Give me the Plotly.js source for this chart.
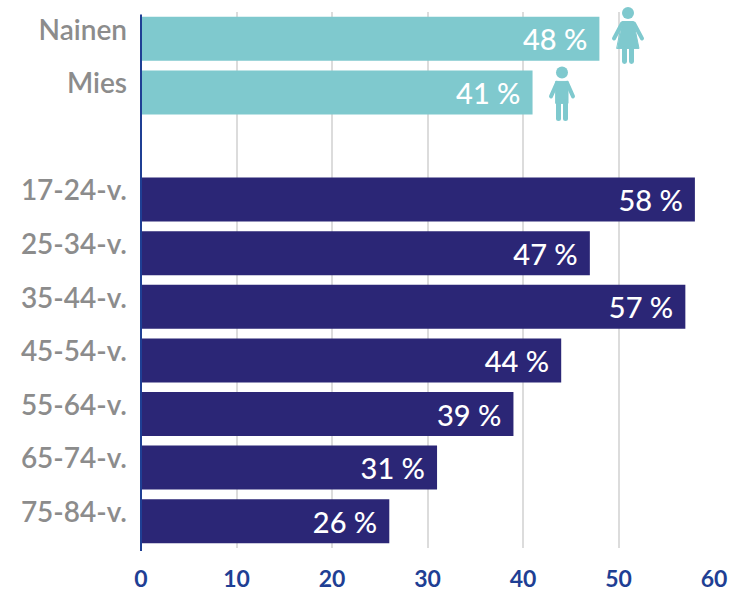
<!DOCTYPE html>
<html><head><meta charset="utf-8">
<script src="https://cdn.plot.ly/plotly-3.0.1.min.js"></script>
<style>html,body{margin:0;padding:0;background:#fff}</style></head>
<body><div id="chart" style="width:744px;height:595px"></div>
<script>
const categories = ['Nainen','Mies',' ','17-24-v.','25-34-v.','35-44-v.','45-54-v.','55-64-v.','65-74-v.','75-84-v.'];
const values = [48,41,null,58,47,57,44,39,31,26];
const barColors = ['#7fc9ce','#7fc9ce','#7fc9ce','#2b2676','#2b2676','#2b2676','#2b2676','#2b2676','#2b2676','#2b2676'];
const xTicks = [0,10,20,30,40,50,60];

const W=744,H=595,L=141,R=714,T=11.5,B=548;
const teal='%237fc9ce';
const woman = "data:image/svg+xml;utf8,<svg xmlns='http://www.w3.org/2000/svg' viewBox='0 0 40 60'>"+
 "<g fill='"+teal+"' stroke='"+teal+"' stroke-linejoin='round' stroke-linecap='round'>"+
 "<circle cx='20' cy='7.5' r='6' stroke='none'/>"+
 "<path stroke-width='1' d='M14.5 16 H25.5 L31 43 H9 Z'/>"+
 "<path fill='none' stroke-width='4' d='M14 18 L6 33 M26 18 L34 33'/>"+
 "<path fill='none' stroke-width='5' d='M16.5 43 V56 M23.5 43 V56'/></g></svg>";
const man = "data:image/svg+xml;utf8,<svg xmlns='http://www.w3.org/2000/svg' viewBox='0 0 40 60'>"+
 "<g fill='"+teal+"' stroke='"+teal+"' stroke-linejoin='round' stroke-linecap='round'>"+
 "<circle cx='20' cy='7' r='6' stroke='none'/>"+
 "<path stroke-width='1' d='M14 16 H26 V38 H14 Z'/>"+
 "<path fill='none' stroke-width='4' d='M15 17.5 L9 31 M25 17.5 L31 31'/>"+
 "<path fill='none' stroke-width='5' d='M16.5 36 V53 M23.5 36 V53'/></g></svg>";
const px = x => (x-L)/(R-L), py = y => (B-y)/(B-T);
function img(src,x,y,w,h){return {source:src,xref:'paper',yref:'paper',x:px(x),y:py(y),sizex:w/(R-L),sizey:h/(B-T),sizing:'stretch',xanchor:'left',yanchor:'top',layer:'above'};}

Plotly.newPlot('chart',[{
  type:'bar',orientation:'h',y:categories,x:values,
  marker:{color:barColors,line:{width:0}},
  text:values.map(v=>v==null?'':v+' %\u00A0\u200A'),
  textposition:'inside',insidetextanchor:'end',textangle:0,constraintext:'none',
  insidetextfont:{family:'Lato, sans-serif',size:29,color:'#ffffff',weight:500},
  hoverinfo:'skip',cliponaxis:false
}],{
  width:W,height:H,showlegend:false,paper_bgcolor:'#fff',plot_bgcolor:'#fff',
  margin:{l:L,r:W-R,t:T,b:H-B,pad:0},bargap:0.18,
  xaxis:{range:[0,60],tickvals:xTicks,showgrid:true,gridcolor:'#dcdcdc',gridwidth:2,zeroline:false,showline:false,ticks:'',
    tickfont:{family:'Lato, sans-serif',size:23,color:'#1f3f94',weight:700},ticklen:0,ticklabelstandoff:15},
  yaxis:{type:'category',categoryorder:'array',categoryarray:categories,autorange:false,range:[9.5,-0.5],showgrid:false,zeroline:false,showline:false,ticks:'',
    tickfont:{family:'Lato, sans-serif',size:28,color:'#8c8c8c',weight:600},ticklabelstandoff:13,ticklabelshift:9},
  shapes:[{type:'line',xref:'paper',yref:'paper',x0:0,x1:0,y0:py(551),y1:py(14),line:{color:'#1f3f94',width:2},layer:'above'}],
  images:[img(woman,608,5,40,60),img(man,542,65,40,60)]
},{displayModeBar:false,staticPlot:true});
</script></body></html>
